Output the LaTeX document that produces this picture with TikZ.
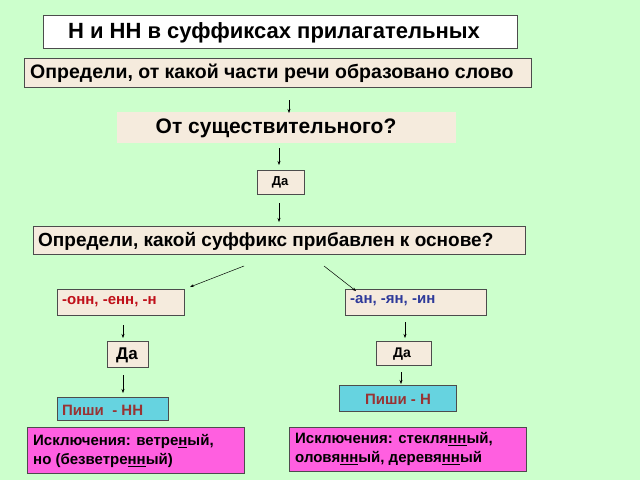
\documentclass[tikz,border=0pt]{standalone}
\usepackage{fontspec}
\setmainfont{Liberation Sans}
\usetikzlibrary{arrows.meta}
\definecolor{bg}{HTML}{CCFFCC}
\definecolor{beige}{HTML}{F5EBDD}
\definecolor{cyanb}{HTML}{66D3E0}
\definecolor{mag}{HTML}{FF5FE0}
\definecolor{redt}{HTML}{C0101A}
\definecolor{bluet}{HTML}{2E3A9A}
\definecolor{brt}{HTML}{993333}
\begin{document}
\begin{tikzpicture}[x=1pt,y=-1pt,
  bx/.style={draw=black!70,line width=0.8pt,fill=beige},
  ar/.style={-{Stealth[length=4pt,width=3pt]},line width=0.5pt},
  tx/.style={font=\bfseries,inner sep=0pt}]
\fill[bg] (0,0) rectangle (640,480);
\useasboundingbox (0,0) rectangle (640,480);
\draw[bx,fill=white] (43,15) rectangle (517,48);
\node[tx,font=\bfseries\fontsize{22}{26}\selectfont] (t) at (274,33) {Н и НН в суффиксах прилагательных};
\draw[bx] (24,58) rectangle (531,87);
\node[tx,anchor=west,font=\bfseries\fontsize{19.5}{23}\selectfont] (q1) at (30,73) {Определи, от какой части речи образовано слово};
\fill[beige] (117,112) rectangle (456,143);
\node[tx,font=\bfseries\fontsize{21}{25}\selectfont] (q2) at (276,128) {От существительного?};
\draw[bx] (257,170) rectangle (304,194);
\node[tx,font=\bfseries\fontsize{13}{15}\selectfont] (d1) at (280,182) {Да};
\draw[bx] (33,226) rectangle (525,254);
\node[tx,anchor=west,font=\bfseries\fontsize{19}{23}\selectfont] (q3) at (38,241) {Определи, какой суффикс прибавлен к основе?};
\draw[bx] (57,289) rectangle (184,315);
\node[tx,anchor=west,text=redt,font=\bfseries\fontsize{15}{18}\selectfont] (s1) at (62,302) {-онн, -енн, -н};
\draw[bx] (345,289) rectangle (486,315);
\node[tx,anchor=west,text=bluet,font=\bfseries\fontsize{15}{18}\selectfont] (s2) at (350,301) {-ан, -ян, -ин};
\draw[bx] (107,341) rectangle (148,367);
\node[tx,font=\bfseries\fontsize{17}{20}\selectfont] (d2) at (127,355) {Да};
\draw[bx] (376,341) rectangle (431,365);
\node[tx,font=\bfseries\fontsize{14}{16}\selectfont] (d3) at (402,354) {Да};
\draw[bx,fill=cyanb] (339,385) rectangle (456,411);
\node[tx,text=brt,font=\bfseries\fontsize{15}{18}\selectfont] (p1) at (398,399) {Пиши - Н};
\draw[bx,fill=cyanb] (57,397) rectangle (168,420);
\node[tx,anchor=west,text=brt,font=\bfseries\fontsize{15}{18}\selectfont] (p2) at (62,410) {Пиши~ - НН};
\draw[bx,fill=mag] (27,427) rectangle (244,473);
\node[tx,anchor=west,align=left,font=\bfseries\fontsize{15}{19}\selectfont] (e1) at (33,451) {Исключения: ветре\underline{н}ый,\\но (безветре\underline{нн}ый)};
\draw[bx,fill=mag] (289,427) rectangle (526,471);
\node[tx,anchor=west,align=left,font=\bfseries\fontsize{15}{19}\selectfont] (e2) at (295,449) {Исключения: стекля\underline{нн}ый,\\оловя\underline{нн}ый, деревя\underline{нн}ый};
\draw[ar] (289,100) -- (289,113);
\draw[ar] (279,148) -- (279,165);
\draw[ar] (279,203) -- (279,222);
\draw[ar] (244,266) -- (190,287);
\draw[ar] (324,266) -- (356,291);
\draw[ar] (123,325) -- (123,338);
\draw[ar] (405,322) -- (405,338);
\draw[ar] (123,375) -- (123,393);
\draw[ar] (401,372) -- (401,384);
\end{tikzpicture}
\end{document}
